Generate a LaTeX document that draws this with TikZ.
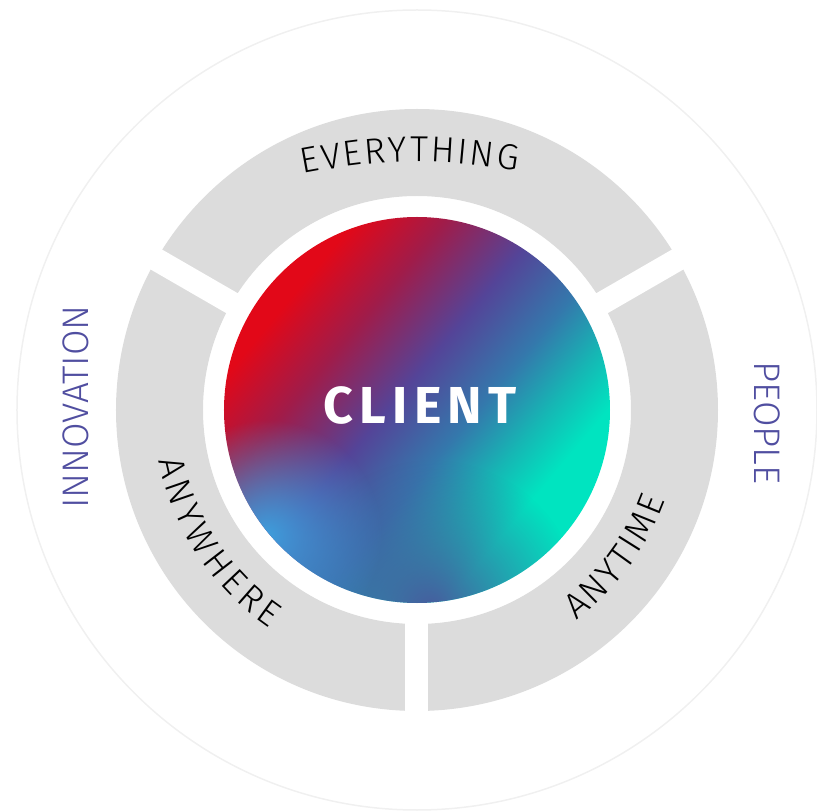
\documentclass[tikz,border=0pt]{standalone}
\usepackage{fontspec}
\IfFontExistsTF{Fira Sans Light}
  {\newfontfamily\labelfont{Fira Sans Light}}
  {\newfontfamily\labelfont{Fira Sans}}
\newfontfamily\clientfont[LetterSpace=12]{Fira Sans}
\usetikzlibrary{decorations.text}
\usetikzlibrary{fadings}

\definecolor{ringgray}{RGB}{220,220,220}
\definecolor{sidetext}{RGB}{80,78,160}
\definecolor{cRed}{RGB}{226,8,24}
\definecolor{cCrimson}{RGB}{160,28,74}
\definecolor{cIndigo}{RGB}{84,68,152}
\definecolor{cSteel}{RGB}{52,120,172}
\definecolor{cTeal}{RGB}{22,182,180}
\definecolor{cGreen}{RGB}{0,228,192}
\definecolor{cSky}{RGB}{62,158,220}

\pgfdeclarehorizontalshading{clientshade}{100bp}{color(0bp)=(cRed); color(28bp)=(cRed); color(37bp)=(cCrimson); color(47bp)=(cIndigo); color(56bp)=(cSteel); color(63bp)=(cTeal); color(69bp)=(cGreen); color(100bp)=(cGreen)}
\tikzfading[name=spotfade, inner color=transparent!0, outer color=transparent!100]

\begin{document}
\begin{tikzpicture}[x=1pt,y=1pt]
\tikzstyle{ring label}=[decorate,decoration={text along path,text align={fit to path},text color=black}]
\tikzstyle{side label}=[text=sidetext,font=\labelfont\fontsize{37}{37}\selectfont,inner sep=0pt]
\useasboundingbox (-417,-401) rectangle (400,410);
% faint outer circle
\draw[black!6,line width=1.5] (0,0) circle (400);
% grey ring cut in three
\fill[ringgray,even odd rule] (0,0) circle (301) (0,0) circle (214);
\foreach \a in {30,150,270}
  \draw[white,line width=23] (\a:200) -- (\a:320);
% client disc
\shade[shading=clientshade,shading angle=-40] (0,0) circle (193);
\begin{scope}
\clip (0,0) circle (193);
\fill[cIndigo,opacity=.85,path fading=spotfade] (15,-200) circle (150);
\fill[cSky,path fading=spotfade] (-150,-125) circle (115);
\end{scope}
\node[text=white,font=\clientfont\bfseries\fontsize{52}{52}\selectfont,inner sep=0pt] (client) at (3,5) {CLIENT};
% ring labels
\coordinate (everything start) at (-114,236);
\coordinate (everything end) at (100,239);
\path[ring label,decoration={text={|\labelfont\fontsize{36}{36}\selectfont|EVERYTHING}}]
  (everything start) to[bend left=10] (everything end);
\path[ring label,decoration={text={|\labelfont\fontsize{36}{36}\selectfont|ANYWHERE}}]
  (191:263) arc[start angle=191,end angle=236,radius=263];
\path[ring label,decoration={text={|\labelfont\fontsize{36}{36}\selectfont|ANYTIME}}]
  (307:264) arc[start angle=307,end angle=340,radius=264];
% side labels
\node[side label,rotate=90] (innovation) at (-341,3) {INNOVATION};
\node[side label,rotate=-90] (people) at (350,-13) {PEOPLE};
\end{tikzpicture}
\end{document}
